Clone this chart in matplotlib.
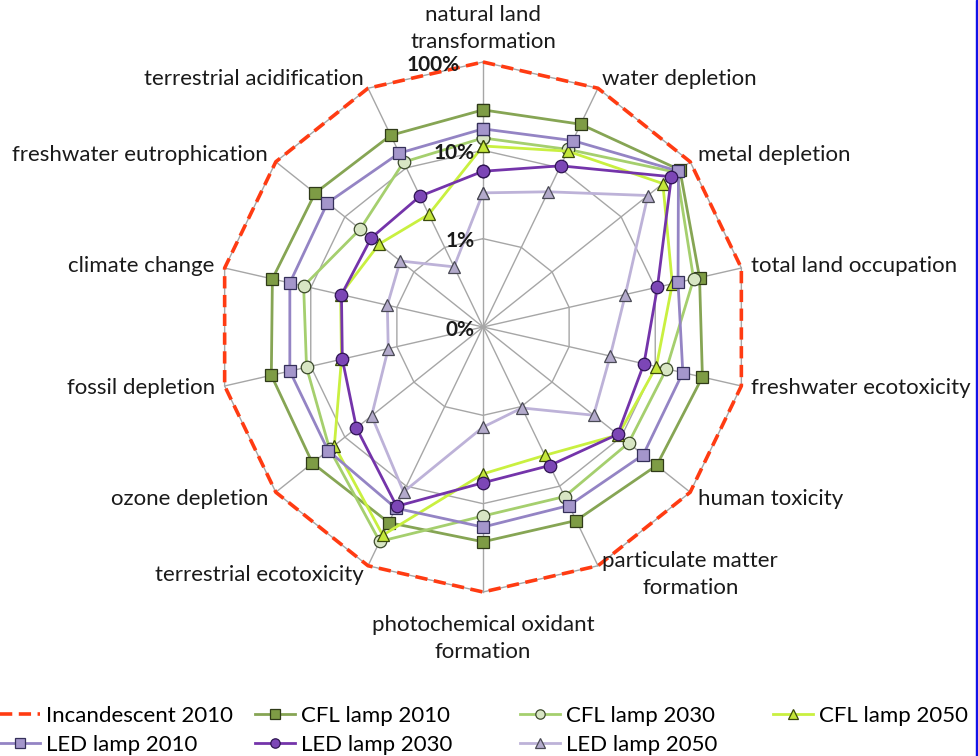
import numpy as np
import matplotlib.pyplot as plt
from matplotlib.patches import Rectangle

plt.rcParams['font.family'] = ['Lato', 'DejaVu Sans']

categories = ["natural land\ntransformation", "water depletion", "metal depletion",
              "total land occupation", "freshwater ecotoxicity", "human toxicity",
              "particulate matter\nformation", "photochemical oxidant\nformation",
              "terrestrial ecotoxicity", "ozone depletion", "fossil depletion",
              "climate change", "freshwater eutrophication", "terrestrial acidification"]

# share of the incandescent lamp impact, in %
incandescent_2010 = [100, 100, 100, 100, 100, 100, 100, 100, 100, 100, 100, 100, 100, 100]
cfl_2010 = [28.7, 35.3, 71.0, 32.7, 35.3, 32.7, 27.0, 27.0, 28.7, 29.5, 28.7, 27.9, 27.0, 25.6]
cfl_2030 = [13.8, 17.0, 64.0, 27.9, 13.5, 12.8, 13.5, 13.8, 49.5, 16.6, 11.2, 12.1, 6.0, 11.8]
cfl_2050 = [11.2, 16.2, 40.2, 15.8, 10.3, 9.1, 4.1, 4.6, 41.3, 14.2, 4.4, 4.5, 3.2, 2.6]
led_2010 = [17.5, 22.0, 67.6, 18.4, 20.9, 20.9, 17.5, 18.4, 18.9, 17.5, 17.5, 17.5, 17.9, 15.3]
led_2030 = [5.8, 10.6, 53.5, 10.6, 7.4, 8.9, 5.5, 5.8, 17.9, 6.8, 4.3, 4.4, 4.15, 4.4]
led_2050 = [3.3, 5.0, 24.4, 4.5, 3.0, 4.0, 1.04, 1.36, 11.8, 4.1, 1.26, 1.29, 1.58, 0.57]

ring_values = [0.1, 1, 10, 100]
ring_labels = ["0%", "1%", "10%", "100%"]

# name, values, line colour, marker, marker face, marker edge
series = [
    ("Incandescent 2010", incandescent_2010, '#FF3B12', None, None, None),
    ("CFL lamp 2010", cfl_2010, '#86A554', 's', '#7E9C45', '#2F3A18'),
    ("CFL lamp 2030", cfl_2030, '#A5CF6E', 'o', '#D8E6C4', '#3C4A2C'),
    ("CFL lamp 2050", cfl_2050, '#C9F040', '^', '#C4E63A', '#3A4A0C'),
    ("LED lamp 2010", led_2010, '#9484C4', 's', '#A496CB', '#35305A'),
    ("LED lamp 2030", led_2030, '#7434AA', 'o', '#7C46B6', '#2E1452'),
    ("LED lamp 2050", led_2050, '#BDB2D8', '^', '#B3AACB', '#4A4A55'),
]

n = len(categories)
theta = np.arange(n) * 2 * np.pi / n
theta_c = np.append(theta, theta[0])

fig = plt.figure(figsize=(9.79, 7.56), dpi=100)
cx, cy, rad = 483, 327, 265
ax = fig.add_axes([(cx - rad) / 979, (756 - cy - rad) / 756, 2 * rad / 979, 2 * rad / 756],
                  projection='polar')
ax.set_theta_zero_location('N')
ax.set_theta_direction(-1)
ax.set_rscale('log')
ax.set_rlim(0.1, 100)
ax.grid(False)
ax.spines['polar'].set_visible(False)
ax.set_xticks([])
ax.set_yticks([])
ax.patch.set_alpha(0)

# polygon grid and spokes
for v in ring_values[1:]:
    ax.plot(theta_c, [v] * (n + 1), color='#A6A6A6', lw=1, zorder=1, clip_on=False)
for t in theta:
    ax.plot([t, t], [0.1, 100], color='#A6A6A6', lw=1, zorder=1, clip_on=False)

handles = {}
for name, vals, col, mk, mfc, mec in series:
    vals_c = np.append(vals, vals[0])
    if mk is None:
        h, = ax.plot(theta_c, vals_c, color=col, lw=2.6, dashes=(3.4, 1.8), zorder=2,
                     clip_on=False, label=name)
    else:
        h, = ax.plot(theta_c, vals_c, color=col, lw=2.0, marker=mk, ms=9, mfc=mfc,
                     mec=mec, mew=0.9, zorder=3, clip_on=False, label=name)
    handles[name] = h

# ring labels on the top spoke
for v, lab in zip(ring_values, ring_labels):
    dx = -17 if v == 100 else -6
    ax.annotate(lab, (0, v), xytext=(dx, -2), textcoords='offset points',
                ha='right', va='center', fontsize=15, fontweight='bold', color='#1A1A1A')

# category labels
for t, lab in zip(theta, categories):
    s = np.sin(t)
    c = np.cos(t)
    ha = 'left' if s > 0.01 else ('right' if s < -0.01 else 'center')
    r = 130
    if c > 0.99:
        va = 'bottom'
    elif c < -0.99:
        va = 'top'
        r = 180
    else:
        va = 'center'
    ax.text(t, r, lab, ha=ha, va=va, multialignment='center', fontsize=16,
            linespacing=1.45, color='#1A1A1A')

# legend, one block per column as in the original layout
columns = [["Incandescent 2010", "LED lamp 2010"],
           ["CFL lamp 2010", "LED lamp 2030"],
           ["CFL lamp 2030", "LED lamp 2050"],
           ["CFL lamp 2050"]]
col_x = [0, 255, 520, 773]
for names, x in zip(columns, col_x):
    fig.legend([handles[nm] for nm in names], names, loc='upper left',
               bbox_to_anchor=(x / 979, 1 - 706 / 756), frameon=False,
               borderpad=0, borderaxespad=0, handlelength=1.8, handletextpad=0.25,
               labelspacing=0.4, fontsize=16, markerscale=0.75)

# blue edge on the right side
fig.patches.append(Rectangle((976 / 979, 0), 3 / 979, 1, transform=fig.transFigure,
                             color='#1212E8', zorder=10))

fig.savefig('out.png', dpi=100, facecolor='white')
